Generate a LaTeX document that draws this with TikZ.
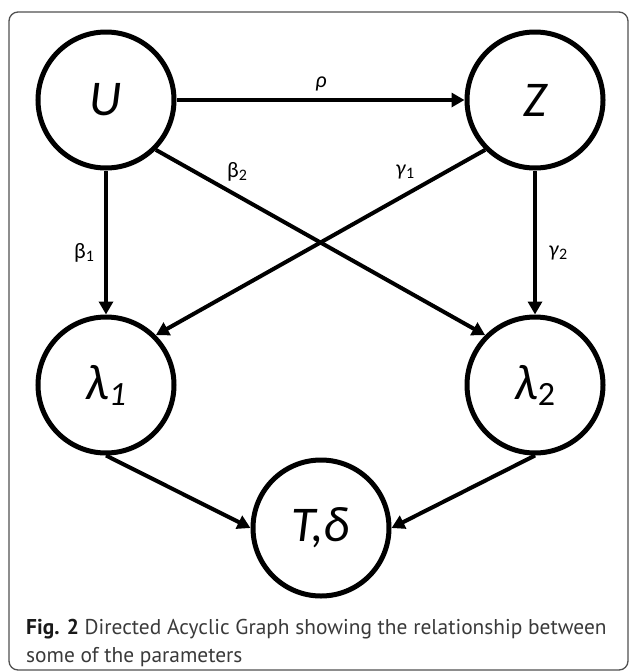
\documentclass[tikz,border=0pt]{standalone}
\usepackage{fontspec}
\usetikzlibrary{arrows.meta}
\newfontfamily\nodefont{Carlito}
\newfontfamily\capfont{PT Sans}
\definecolor{captxt}{HTML}{3A3A3A}
\definecolor{framecol}{HTML}{505050}
\begin{document}
\begin{tikzpicture}[x=1pt,y=-1pt,
  var/.style={circle,draw=black,line width=5pt,minimum size=136pt,inner sep=0pt,outer sep=2.5pt,
    font=\nodefont\itshape\fontsize{50}{50}\selectfont},
  conn/.style={line width=4pt,-{Triangle[length=13pt,width=14pt]}},
  lab/.style={font=\nodefont\fontsize{22}{22}\selectfont,inner sep=0pt},
  captext/.style={font=\capfont\fontsize{21.4}{24}\selectfont,text=captxt,inner sep=0pt,anchor=base west}]
\useasboundingbox (0,0) rectangle (629,672);
\draw[framecol,line width=1.3pt,rounded corners=9pt] (9,12) rectangle (628,670);
\node[var] (U) at (106,100) {U};
\node[var] (Z) at (535,100) {Z};
\node[var] (l1) at (106,385) {λ\raisebox{-6pt}{\fontsize{34}{34}\selectfont 1}};
\node[var] (l2) at (535,385) {λ\raisebox{-6pt}{\upshape\fontsize{34}{34}\selectfont 2}};
\node[var] (T) at (321,528) {T,δ};
\draw[conn] (U) -- (Z);
\draw[conn] (U) -- (l1);
\draw[conn] (Z) -- (l2);
\draw[conn] (U.-45) -- (l2.135);
\draw[conn] (Z.225) -- (l1.45);
\draw[conn] (l1.south) -- (T.west);
\draw[conn] (l2.south) -- (T.east);
\node[lab] (rho) at (321,84) {\textit{ρ}};
\node[lab] (b2) at (237,172) {β\raisebox{-3pt}{\fontsize{16}{16}\selectfont 2}};
\node[lab] (g1) at (405,172) {\textit{γ}\raisebox{-3pt}{\fontsize{16}{16}\selectfont 1}};
\node[lab] (b1) at (84,253) {β\raisebox{-3pt}{\fontsize{16}{16}\selectfont 1}};
\node[lab] (g2) at (558,253) {\textit{γ}\raisebox{-3pt}{\fontsize{16}{16}\selectfont 2}};
\node[captext] (cap1) at (26,634) {\textbf{\color{black!90}Fig. 2} Directed Acyclic Graph showing the relationship between};
\node[captext] (cap2) at (26,662) {some of the parameters};
\end{tikzpicture}
\end{document}
